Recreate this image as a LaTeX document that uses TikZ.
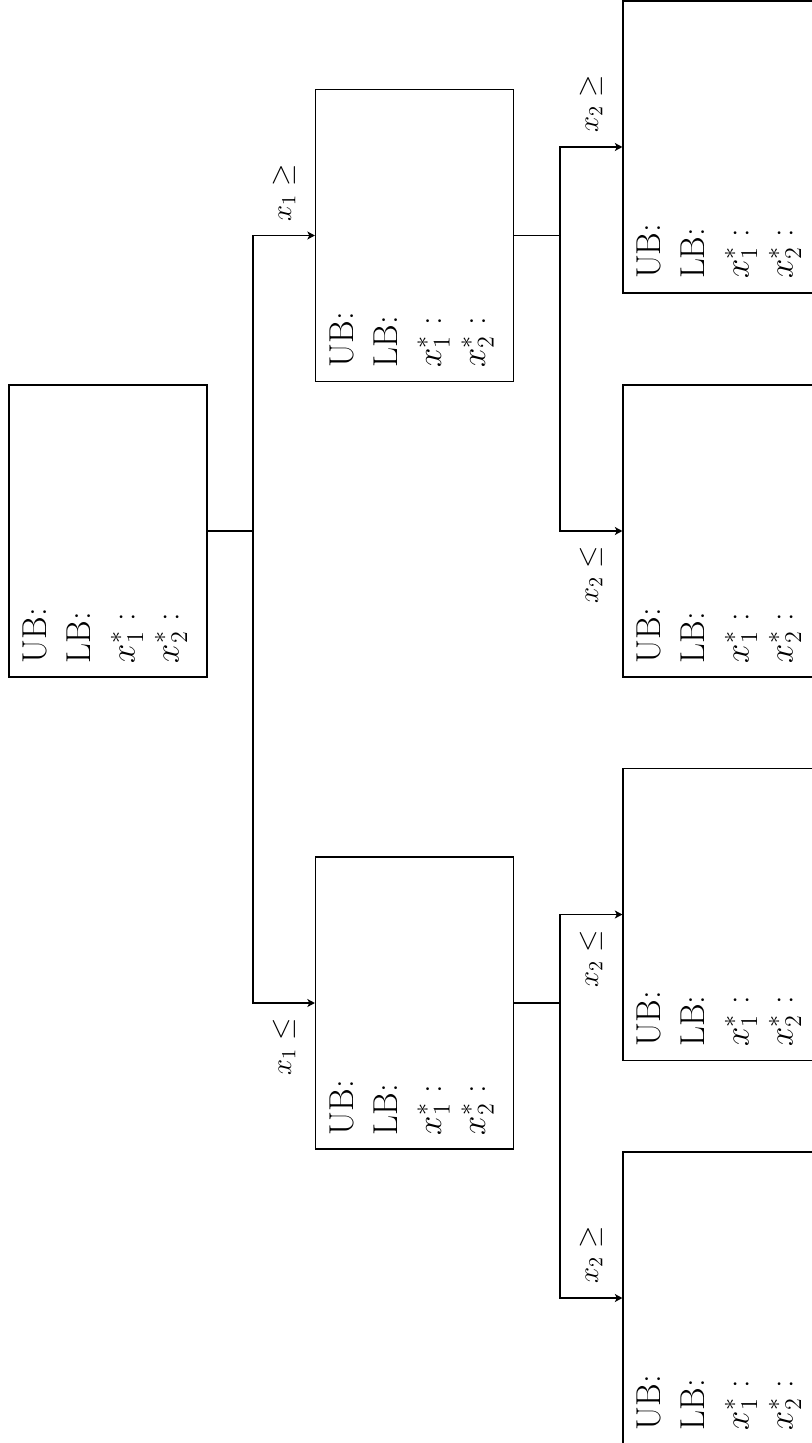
\documentclass[tikz,border=0pt]{standalone}
\usetikzlibrary{arrows.meta}
\begin{document}
\begin{tikzpicture}[x=0.5pt,y=-0.5pt, line width=0.6pt,
  bbox/.style={draw, minimum width=99pt, minimum height=146pt, inner sep=0pt},
  boxtext/.style={rotate=90, anchor=north west, align=left, inner sep=7pt, font=\LARGE},
  lab/.style={rotate=90, inner sep=0pt, font=\Large},
  conn/.style={-{Stealth[length=3.8pt, width=4pt, inset=1pt]}}]
\useasboundingbox (0,0) rectangle (812,1443);
\clip (0,0) rectangle (812,1443);
% boxes
\node[bbox] (root) at (108,531) {};
\node[bbox] (a) at (414.5,235.5) {};
\node[bbox] (b) at (414.5,1003) {};
\node[bbox] (aa) at (722,147) {};
\node[bbox] (ab) at (722,531) {};
\node[bbox] (ba) at (722,914.5) {};
\node[bbox] (bb) at (722,1298) {};
% texts
\foreach \n in {root,a,b,aa,ab,ba,bb}{
  \node[boxtext] (t\n) at (\n.south west) {UB:\\LB:\\$x_1^*:$\\$x_2^*:$};
}
% connectors
\coordinate (c0) at (253,531);
\coordinate (ca) at (560,235.5);
\coordinate (cb) at (560,1003);
\draw (root.east) -- (c0);
\draw[conn] (c0) |- (a.west);
\draw[conn] (c0) |- (b.west);
\draw (a.east) -- (ca);
\draw[conn] (ca) |- (aa.west);
\draw[conn] (ca) |- (ab.west);
\draw (b.east) -- (cb);
\draw[conn] (cb) |- (ba.west);
\draw[conn] (cb) |- (bb.west);
% labels
\node[lab, anchor=west] (la) at (284,222) {$x_1 \geq$};
\node[lab, anchor=east] (lb) at (284,1017) {$x_1 \leq$};
\node[lab, anchor=west] (laa) at (591,133) {$x_2 \geq$};
\node[lab, anchor=east] (lab) at (591,545) {$x_2 \leq$};
\node[lab, anchor=east] (lba) at (591,929) {$x_2 \leq$};
\node[lab, anchor=west] (lbb) at (591,1284) {$x_2 \geq$};
\end{tikzpicture}
\end{document}
